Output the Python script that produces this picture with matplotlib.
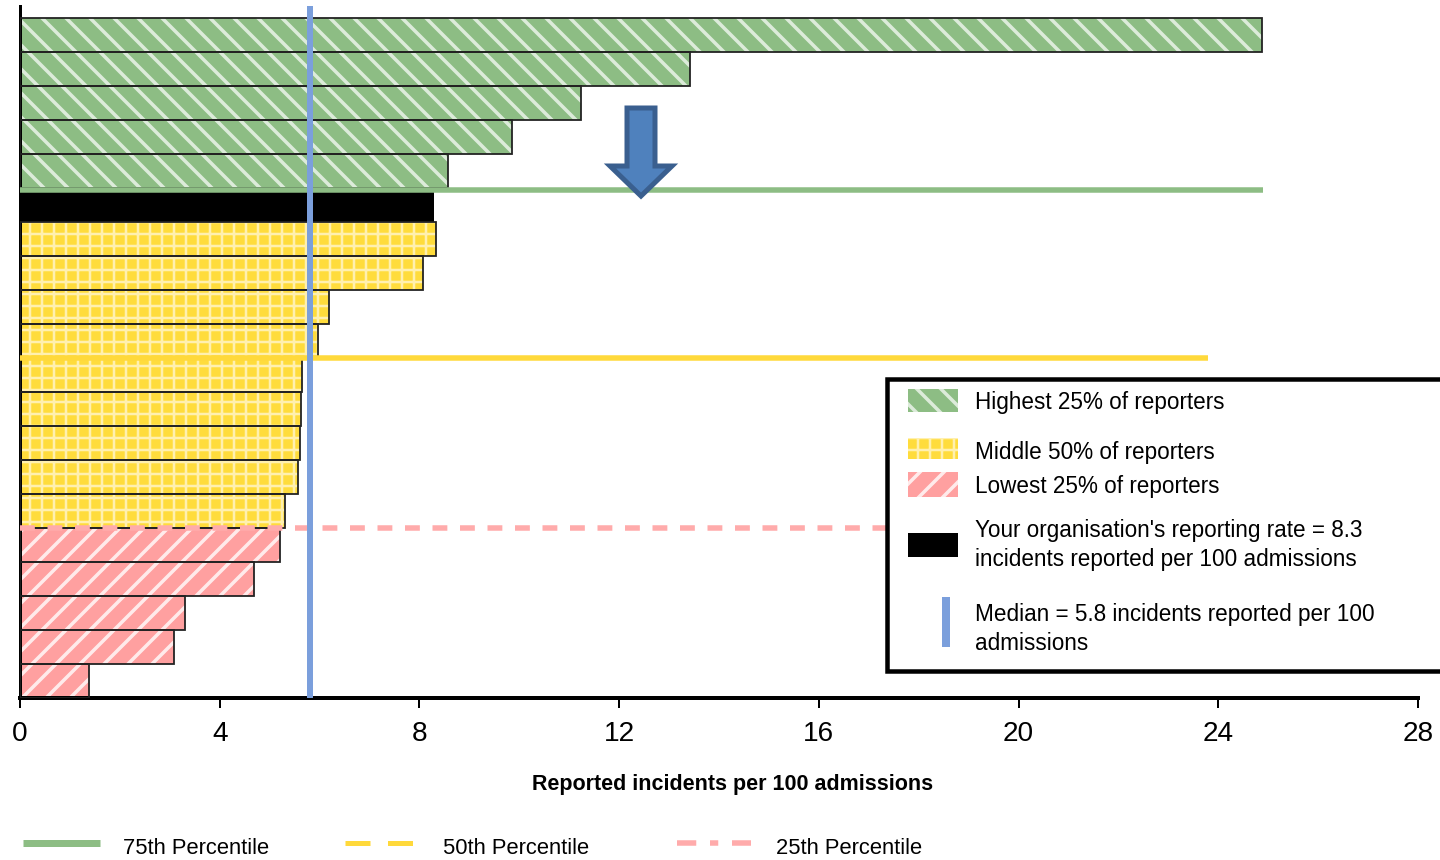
import matplotlib
matplotlib.use("Agg")
import matplotlib.pyplot as plt
from matplotlib.patches import Rectangle, Polygon
import numpy as np

# dpi 72 so that 1 pt == 1 px and the hatch tiles come out at 12 px
plt.rcParams['font.family'] = ['Liberation Sans', 'DejaVu Sans']

# reporting rates per organisation, highest first
rates = [24.87, 13.42, 11.24, 9.85, 8.57,
         8.3,
         8.33, 8.07, 6.19, 5.97, 5.65, 5.63, 5.61, 5.57, 5.31,
         5.21, 4.69, 3.30, 3.08, 1.38]
groups = ['high'] * 5 + ['you'] + ['mid'] * 9 + ['low'] * 5

our_rate = 8.3
median_rate = 5.8
# percentile lines: (row position, length)
p75 = (4.57, 24.9)
p50 = (9.5, 23.8)
p25 = (14.5, 24.0)

ticks = [0, 4, 8, 12, 16, 20, 24, 28]

green = '#8dbd84'
yellow = '#ffdc3c'
pink = '#ffa0a0'
blue = '#7b9fdc'

style = {
    'high': dict(color=green, hatch='\\', hcol=(1, 1, 1, 0.7), hlw=3.5),
    'mid': dict(color=yellow, hatch='+', hcol=(1, 1, 1, 0.6), hlw=2.5),
    'low': dict(color=pink, hatch='/', hcol=(1, 1, 1, 0.8), hlw=3.5),
}

def hatched_rect(xy, w, h, g):
    s = style[g]
    # hatch width is picked up from rcParams when the patch is made
    plt.rcParams['hatch.linewidth'] = s['hlw']
    return Rectangle(xy, w, h, facecolor=s['color'], hatch=s['hatch'],
                     edgecolor=s['hcol'], lw=0)

fig = plt.figure(figsize=(1440 / 72, 860 / 72), dpi=72)
ax = fig.add_axes([20 / 1440, 1 - 698 / 860, 1398 / 1440, 692 / 860])

y = np.arange(len(rates))
for yi, r, g in zip(y, rates, groups):
    if g == 'you':
        ax.barh(yi, r, height=1.0, color='black', edgecolor='black', lw=0, zorder=2)
        continue
    s = style[g]
    plt.rcParams['hatch.linewidth'] = s['hlw']
    ax.barh(yi, r, height=1.0, color=s['color'], hatch=s['hatch'],
            edgecolor=s['hcol'], lw=0, zorder=2)
    ax.barh(yi, r, height=1.0, color='none', edgecolor='#222222', lw=1.8, zorder=3)

ax.plot([0, p75[1]], [p75[0], p75[0]], color=green, lw=5.5, zorder=4, solid_capstyle='butt')
ax.plot([0, p50[1]], [p50[0], p50[0]], color='#ffd93b', lw=5.5, zorder=4, solid_capstyle='butt')
ax.plot([0, p25[1]], [p25[0], p25[0]], color='#ffabab', lw=5.5, zorder=4,
        dashes=(2.7, 2.3))
ax.axvline(median_rate, color=blue, lw=6, zorder=5)

ax.set_xlim(0, 28)
ax.set_ylim(len(rates) - 0.5, -0.85)
ax.set_xticks(ticks)
ax.set_xticklabels([str(t) for t in ticks], fontsize=28)
ax.set_yticks([])
ax.tick_params(axis='x', length=10, width=2, pad=13)
for side in ['top', 'right']:
    ax.spines[side].set_visible(False)
ax.spines['left'].set_linewidth(3)
ax.spines['bottom'].set_linewidth(4)
ax.set_xlabel('Reported incidents per 100 admissions', fontsize=21.5,
              fontweight='bold', labelpad=27, x=0.51)

# overlay in pixel coordinates for arrow and legends
ov = fig.add_axes([0, 0, 1, 1], zorder=10)
ov.set_xlim(0, 1440)
ov.set_ylim(860, 0)
ov.axis('off')
ov.patch.set_alpha(0)

arrow = Polygon([(627, 108), (655, 108), (655, 166), (672, 166), (641, 196),
                 (610, 166), (627, 166)], closed=True,
                facecolor='#4f81bd', edgecolor='#3a5f8f', lw=5, joinstyle='miter')
ov.add_patch(arrow)

# legend box
ov.add_patch(Rectangle((887, 379), 600, 292, facecolor='white',
                       edgecolor='black', lw=4.5))

ov.add_patch(hatched_rect((908, 389), 50, 23, 'high'))
ov.add_patch(hatched_rect((908, 438), 50, 21, 'mid'))
ov.add_patch(hatched_rect((908, 472), 50, 25, 'low'))
ov.add_patch(Rectangle((908, 533), 50, 24, facecolor='black', edgecolor='black', lw=0))
ov.add_patch(Rectangle((942, 597), 8, 50, facecolor=blue, edgecolor='none'))

tx = 975
fs = 22.5
ov.text(tx, 402, 'Highest 25% of reporters', fontsize=fs, va='center')
ov.text(tx, 453, 'Middle 50% of reporters', fontsize=fs, va='center')
ov.text(tx, 486, 'Lowest 25% of reporters', fontsize=fs, va='center')
ov.text(tx, 545, "Your organisation's reporting rate = {}\nincidents reported per 100 admissions".format(our_rate),
        fontsize=fs, va='center', linespacing=1.3)
ov.text(tx, 629, 'Median = {} incidents reported per 100\nadmissions'.format(median_rate),
        fontsize=fs, va='center', linespacing=1.3)

# percentile key at the bottom
ov.plot([23, 100], [843, 843], color=green, lw=7, solid_capstyle='butt')
ov.text(123, 849, '75th Percentile', fontsize=22, va='center')
ov.plot([345, 415], [843, 843], color='#ffd93b', lw=5, dashes=(5, 3.5))
ov.text(443, 849, '50th Percentile', fontsize=22, va='center')
ov.plot([677, 751], [843, 843], color='#ffabab', lw=5.5, dashes=(3.5, 2.5, 1.5, 2.5))
ov.text(776, 849, '25th Percentile', fontsize=22, va='center')

fig.savefig('out.png', dpi=72)
